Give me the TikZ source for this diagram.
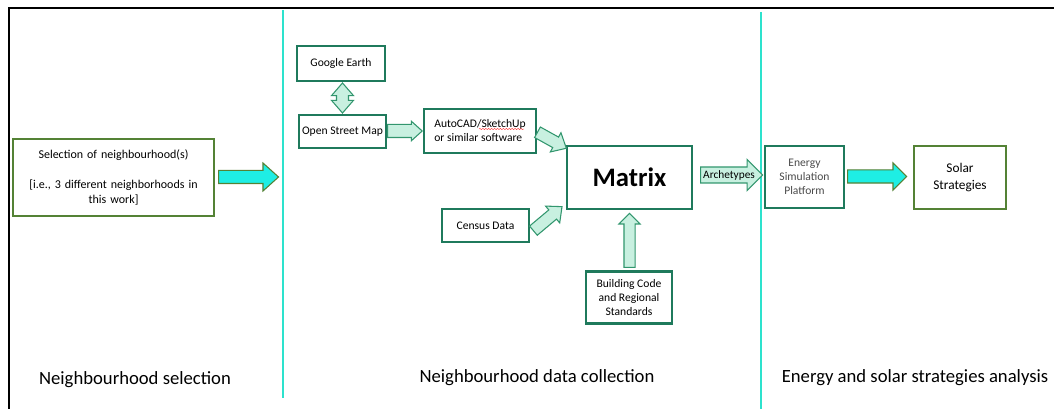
\documentclass[tikz,border=0pt]{standalone}
\usepackage{fontspec}
\setmainfont{Carlito}
\usetikzlibrary{shapes.arrows,decorations.pathmorphing}
\definecolor{dkgreen}{RGB}{31,122,92}
\definecolor{olive}{RGB}{84,130,53}
\definecolor{cyanfill}{RGB}{30,238,228}
\definecolor{divider}{RGB}{45,226,205}
\definecolor{mintfill}{RGB}{200,240,224}
\definecolor{mintline}{RGB}{50,150,110}
\definecolor{greytext}{RGB}{75,75,75}
\tikzset{
  dkbox/.style={draw=dkgreen, line width=2.2pt, fill=white, inner sep=0pt, align=center,
    font=\fontsize{8.7}{10.5}\selectfont},
  olbox/.style={draw=olive, line width=1.6pt, fill=white, inner sep=0pt, align=center},
  barrow/.style={single arrow, inner xsep=0pt, single arrow head indent=0pt, minimum width=0pt},
  cyanarrow/.style={barrow, fill=cyanfill, draw=olive, line width=0.8pt},
  mintarrow/.style={barrow, fill=mintfill, draw=mintline, line width=0.8pt},
  lbl/.style={font=\fontsize{14}{16}\selectfont},
}
\begin{document}
\begin{tikzpicture}[x=0.75pt,y=-0.75pt]
\useasboundingbox (0,0) rectangle (1054,409);
% frame and dividers
\draw[black, line width=1.5pt] (9,409) -- (9,8) -- (1054,8);
\draw[divider, line width=2.2pt] (283,10) -- (283,398);
\draw[divider, line width=2.2pt] (761,12) -- (761,409);

% boxes
\node[olbox, minimum width=150.75pt, minimum height=57.75pt, text width=146pt,
  font=\fontsize{9}{11.25}\selectfont] (sel) at (113.5,177.5)
  {Selection of neighbourhood(s)\par\vspace{11.25pt}{[}i.e., 3 different neighborhoods in\par this work{]}};
\node[dkbox, minimum width=66pt, minimum height=26.25pt] (ge) at (341,63.5) {Google Earth};
\node[dkbox, minimum width=65.25pt, minimum height=24.75pt] (osm) at (342.5,131.5) {Open Street Map};
\node[dkbox, minimum width=84pt, minimum height=33pt, align=left] (auto) at (480,131)
  {AutoCAD/SketchUp\\or similar software};
\node[dkbox, minimum width=93.75pt, minimum height=47.25pt,
  font=\fontsize{20}{24}\selectfont\bfseries] (mat) at (629.5,177.5) {Matrix};
\node[dkbox, minimum width=65.25pt, minimum height=24.75pt] (cen) at (485.5,225.5) {Census Data};
\node[dkbox, minimum width=64.5pt, minimum height=39pt] (bld) at (629,297.5)
  {Building Code\\and Regional\\Standards};
\node[dkbox, minimum width=59.25pt, minimum height=46.5pt, text=greytext] (esp) at (804.5,177)
  {Energy\\Simulation\\Platform};
\node[olbox, minimum width=69pt, minimum height=47.25pt,
  font=\fontsize{10}{12.75}\selectfont] (sol) at (960,177.5) {Solar\\Strategies};

% spelling squiggle
\draw[red!80, line width=0.3pt, decorate, decoration={snake, amplitude=0.5pt, segment length=2.2pt}]
  (479,129) -- (524,129);

% block arrows
\node[cyanarrow, anchor=tail, minimum height=45pt, inner ysep=4.5pt,
  single arrow head extend=5.6pt, single arrow tip angle=84] (a1) at (218,177) {};
\node[cyanarrow, anchor=tail, minimum height=44.25pt, inner ysep=4.5pt,
  single arrow head extend=5.25pt, single arrow tip angle=90] (a2) at (847,176.5) {};
\node[mintarrow, anchor=tail, minimum height=26pt, inner ysep=4.5pt,
  single arrow head extend=2.4pt, single arrow tip angle=84] (a3) at (387,131) {};
\node[double arrow, fill=mintfill, draw=mintline, line width=0.8pt, inner xsep=0pt,
  inner ysep=4.1pt, minimum width=0pt, double arrow head extend=3.75pt,
  double arrow tip angle=82, minimum height=22.5pt, rotate=90] (a4) at (342.5,98) {};
\node[mintarrow, anchor=tail, rotate=-29, minimum height=24.75pt, inner ysep=4.1pt,
  single arrow head extend=3.75pt, single arrow tip angle=84] (a5) at (537,132) {};
\node[mintarrow, anchor=tail, rotate=40, minimum height=28pt, inner ysep=4.1pt,
  single arrow head extend=3.75pt, single arrow tip angle=84] (a6) at (533,231) {};
\node[mintarrow, anchor=tail, rotate=90, minimum height=40.5pt, inner ysep=3.75pt,
  single arrow head extend=3.75pt, single arrow tip angle=90] (a7) at (629.5,268) {};
\node[mintarrow, anchor=tail, minimum height=46.5pt, inner ysep=5.6pt,
  single arrow head extend=5.6pt, single arrow tip angle=90] (a8) at (700,175) {};
\node[font=\fontsize{8.5}{10}\selectfont, inner sep=0pt] (archlbl) at (729,175) {Archetypes};

% section labels
\node[lbl] (l1) at (135,380) {Neighbourhood selection};
\node[lbl] (l2) at (537,378) {Neighbourhood data collection};
\node[lbl] (l3) at (915,378) {Energy and solar strategies analysis};
\end{tikzpicture}
\end{document}
